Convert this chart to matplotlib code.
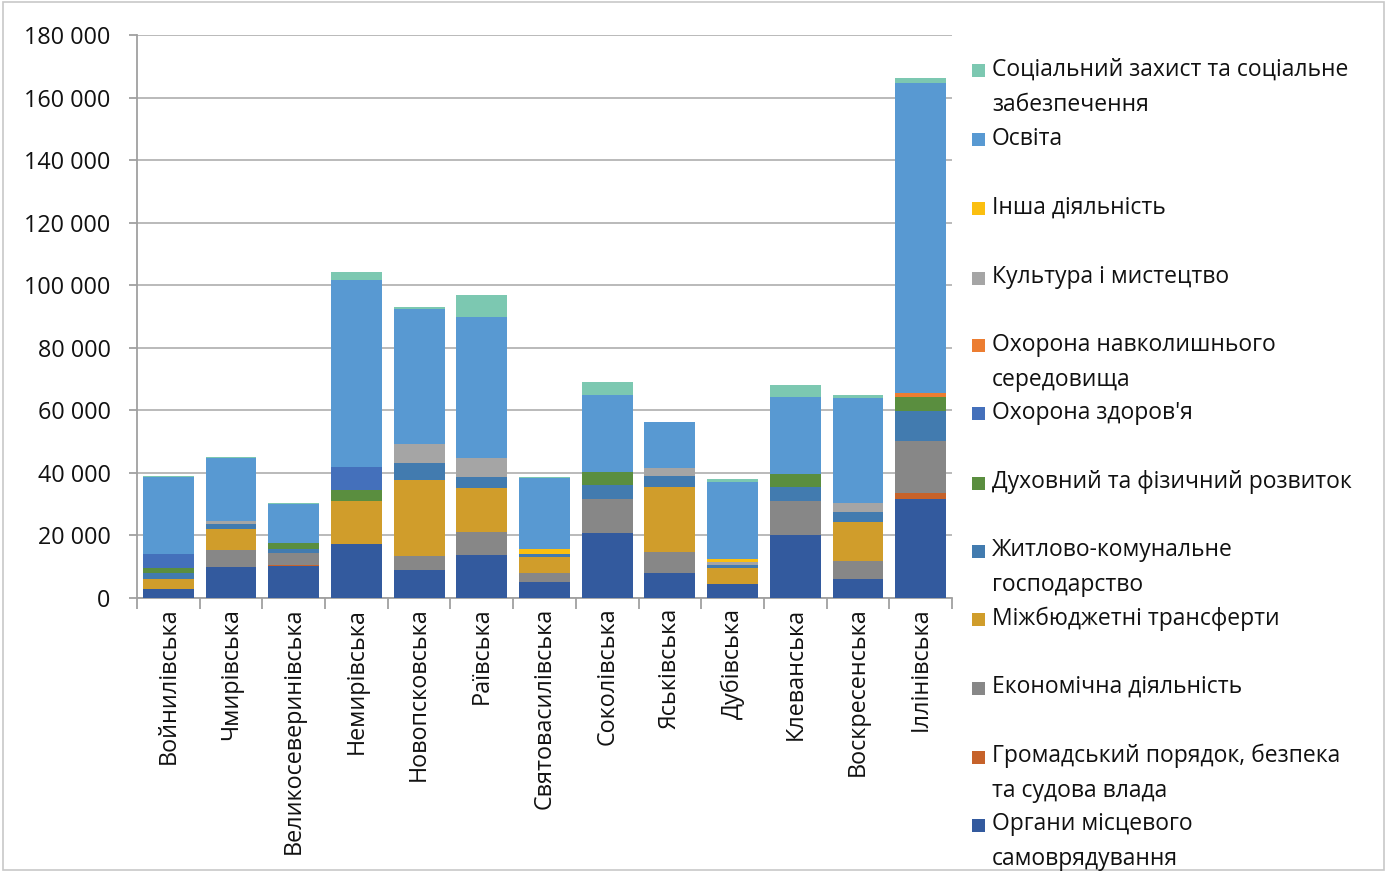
import matplotlib
matplotlib.use("Agg")
import matplotlib.pyplot as plt
import numpy as np
from matplotlib.patches import Rectangle
from matplotlib.ticker import FuncFormatter, FixedLocator

plt.rcParams['font.family'] = ['Open Sans', 'DejaVu Sans']

communities = ["Войнилівська", "Чмирівська", "Великосеверинівська", "Немирівська",
               "Новопсковська", "Раївська", "Святовасилівська", "Соколівська",
               "Яськівська", "Дубівська", "Клеванська", "Воскресенська", "Іллінівська"]

# Expenditure by function, stacked from bottom to top
local_gov     = [2800, 10000, 10300, 17400, 9000, 13700, 5200, 20800, 8100, 4400, 20100, 6100, 31600]
public_order  = [200, 0, 300, 0, 0, 0, 0, 0, 0, 0, 0, 0, 1900]
economic      = [0, 5300, 3700, 0, 4400, 7300, 2700, 10900, 6700, 0, 10900, 5600, 16800]
transfers     = [3000, 6700, 0, 13700, 24300, 14200, 5300, 0, 20600, 5300, 0, 12700, 0]
housing       = [1900, 1600, 1300, 0, 5400, 3600, 800, 4400, 3600, 800, 4400, 3200, 9600]
spiritual     = [1700, 0, 2100, 3400, 0, 0, 0, 4200, 0, 0, 4100, 0, 4300]
health        = [4500, 0, 0, 7400, 0, 0, 0, 0, 0, 0, 0, 0, 0]
environment   = [0, 0, 0, 0, 0, 0, 0, 0, 0, 0, 0, 0, 1400]
culture       = [0, 1100, 0, 0, 6000, 6000, 0, 0, 2500, 1100, 0, 2700, 0]
other         = [0, 0, 0, 0, 0, 0, 1600, 0, 0, 1000, 0, 0, 0]
education     = [24700, 20200, 12300, 59800, 43200, 45100, 22700, 24600, 14900, 24600, 24700, 33600, 99100]
social        = [300, 300, 300, 2400, 800, 6900, 300, 4100, 0, 900, 3900, 1100, 1700]

series = [
    ("Органи місцевого\nсамоврядування", local_gov, "#335A9E"),
    ("Громадський порядок, безпека\nта судова влада", public_order, "#C6622A"),
    ("Економічна діяльність", economic, "#878787"),
    ("Міжбюджетні трансферти", transfers, "#D09D2B"),
    ("Житлово-комунальне\nгосподарство", housing, "#427BAF"),
    ("Духовний та фізичний розвиток", spiritual, "#5A8E3F"),
    ("Охорона здоров'я", health, "#4470BB"),
    ("Охорона навколишнього\nсередовища", environment, "#EC7D31"),
    ("Культура і мистецтво", culture, "#A5A5A5"),
    ("Інша діяльність", other, "#FBBF10"),
    ("Освіта", education, "#5899D2"),
    ("Соціальний захист та соціальне\nзабезпечення", social, "#7CC8B1"),
]

W, H = 1387, 872
fig = plt.figure(figsize=(W / 100, H / 100), dpi=100)
fig.patch.set_facecolor("white")
fig.patches.append(Rectangle((0.002, 0.002), 0.996, 0.996, transform=fig.transFigure,
                             fill=False, edgecolor="#C8C8C8", linewidth=1.2))

ax = fig.add_axes([137 / W, 1 - 598 / H, (952 - 137) / W, (598 - 35) / H])
x = np.arange(len(communities))
bottom = np.zeros(len(communities))
for label, vals, color in series:
    v = np.array(vals, dtype=float)
    ax.bar(x, v, bottom=bottom, width=0.81, color=color, edgecolor="none", zorder=3)
    bottom += v

ax.set_xlim(-0.5, len(communities) - 0.5)
ax.set_ylim(0, 180000)
ax.set_yticks(np.arange(0, 180001, 20000))
ax.yaxis.set_major_formatter(FuncFormatter(lambda v, p: f"{int(v):,}".replace(",", " ")))
ax.grid(axis="y", color="#B4B4B4", linewidth=1.3, zorder=0)
ax.set_axisbelow(True)

for s in ["top", "right"]:
    ax.spines[s].set_visible(False)
for s in ["left", "bottom"]:
    ax.spines[s].set_color("#A0A0A0")
    ax.spines[s].set_linewidth(1.3)

ax.tick_params(axis="y", length=6, color="#A0A0A0", width=1.3, labelsize=16.8, pad=13,
               labelcolor="#111111")
ax.set_xticks(x)
ax.set_xticklabels(communities, rotation=90, fontsize=16.8, color="#111111")
ax.tick_params(axis="x", length=0, pad=7)
ax.xaxis.set_minor_locator(FixedLocator(np.arange(-0.5, len(communities), 1.0)))
ax.tick_params(axis="x", which="minor", length=8, color="#A0A0A0", width=1.3)

# Legend: top entry is the top of the stack
legend_y = [71, 140, 209, 278, 346, 414, 483, 551, 620, 688, 757, 825]
for (label, vals, color), yy in zip(reversed(series), legend_y):
    sz = 13
    fig.patches.append(Rectangle((972 / W, 1 - (yy + sz / 2) / H), sz / W, sz / H,
                                 transform=fig.transFigure, facecolor=color, edgecolor="none"))
    fig.text(992 / W, 1 - (yy - 13) / H, label, fontsize=16.5, va="top", ha="left",
             color="#111111", linespacing=1.6)

fig.savefig("out.png", dpi=100)
